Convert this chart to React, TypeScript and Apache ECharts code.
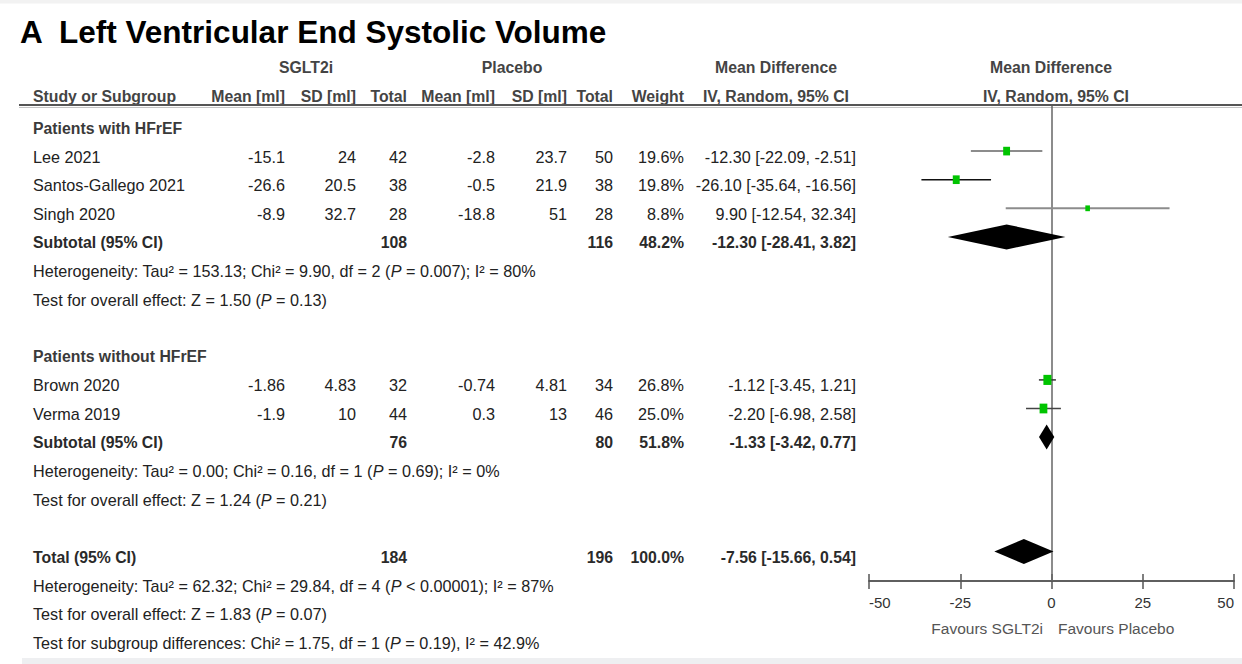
import React, { useEffect, useRef } from "react";
import * as echarts from "echarts";

// ---- study-level data ----
const studies = ["Lee 2021", "Santos-Gallego 2021", "Singh 2020", "Brown 2020", "Verma 2019"];
const studyGroup = [0, 0, 0, 1, 1];
const sgltMean = [-15.1, -26.6, -8.9, -1.86, -1.9];
const sgltSD = [24, 20.5, 32.7, 4.83, 10];
const sgltN = [42, 38, 28, 32, 44];
const placeboMean = [-2.8, -0.5, -18.8, -0.74, 0.3];
const placeboSD = [23.7, 21.9, 51, 4.81, 13];
const placeboN = [50, 38, 28, 34, 46];
const weights = [19.6, 19.8, 8.8, 26.8, 25.0];
const meanDiff = [-12.3, -26.1, 9.9, -1.12, -2.2];
const ciLow = [-22.09, -35.64, -12.54, -3.45, -6.98];
const ciHigh = [-2.51, -16.56, 32.34, 1.21, 2.58];

// ---- subgroup pooled data ----
const subgroups = ["Patients with HFrEF", "Patients without HFrEF"];
const subSgltN = [108, 76];
const subPlaceboN = [116, 80];
const subWeight = [48.2, 51.8];
const subMeanDiff = [-12.3, -1.33];
const subLow = [-28.41, -3.42];
const subHigh = [3.82, 0.77];

// ---- overall pooled data ----
const totalSgltN = 184;
const totalPlaceboN = 196;
const totalWeight = 100.0;
const totalMeanDiff = -7.56;
const totalLow = -15.66;
const totalHigh = 0.54;

// ---- heterogeneity / effect statistics (subgroup 1, subgroup 2, overall) ----
const hetTau2 = ["153.13", "0.00", "62.32"];
const hetChi2 = ["9.90", "0.16", "29.84"];
const hetDf = [2, 1, 4];
const hetP = ["= 0.007", "= 0.69", "< 0.00001"];
const hetI2 = [80, 0, 87];
const effectZ = ["1.50", "1.24", "1.83"];
const effectP = ["0.13", "0.21", "0.07"];
const subDiffChi2 = "1.75";
const subDiffDf = 1;
const subDiffP = "0.19";
const subDiffI2 = "42.9";

// ---- axis ----
const axisTicks = [-50, -25, 0, 25, 50];

// ---- layout & style ----
const W = 1242;
const H = 664;
const FONT = '"Liberation Sans", Arial, Helvetica, sans-serif';
const FS = 16.2;
const HFS = 15.8;
const TEXT_ROW0 = 128;
const PITCH = 28.6;
const MARK_ROW0 = 122.5;
const GRID_TOP = 106;
const AXIS_Y = 581;
const X_LEFT = 869;
const X_RIGHT = 1234;
const COL = { name: 33, m1: 285, sd1: 356, n1: 407, m2: 495, sd2: 567, n2: 613, w: 684, ci: 856 };
const ciLineColor = ["#8c8c8c", "#111", "#8c8c8c", "#333", "#444"];
const ciLineWidth = [2, 1.5, 2, 1.5, 1.5];
const GREEN = "#00c400";

const rowY = (i: number) => TEXT_ROW0 + PITCH * i;
const fmtCI = (m: number, lo: number, hi: number) =>
  `${m.toFixed(2)} [${lo.toFixed(2)}, ${hi.toFixed(2)}]`;

function txt(
  text: string,
  x: number,
  y: number,
  align: string,
  opts: { bold?: boolean; size?: number; color?: string } = {}
) {
  const size = opts.size ?? FS;
  return {
    type: "text",
    x,
    y,
    silent: true,
    style: {
      text,
      fill: opts.color ?? "#222",
      fontSize: size,
      fontFamily: FONT,
      fontWeight: opts.bold ? "bold" : "normal",
      align,
      textAlign: align,
      verticalAlign: "middle",
      textVerticalAlign: "middle",
      rich: {
        it: { fontStyle: "italic", fontSize: size, fontFamily: FONT, fill: opts.color ?? "#222" },
      },
    },
  };
}

function buildRows() {
  // rows: table text + forest marks
  const graphics: any[] = [];
  const marks: any[] = [];
  let r = 0;
  const hetLine = (k: number) =>
    `Heterogeneity: Tau² = ${hetTau2[k]}; Chi² = ${hetChi2[k]}, df = ${hetDf[k]} ({it|P} ${hetP[k]}); I² = ${hetI2[k]}%`;
  const effLine = (k: number) => `Test for overall effect: Z = ${effectZ[k]} ({it|P} = ${effectP[k]})`;

  subgroups.forEach((g, gi) => {
    graphics.push(txt(g, COL.name, rowY(r), "left", { bold: true, size: HFS, color: "#3a3a3a" }));
    r++;
    studies.forEach((s, si) => {
      if (studyGroup[si] !== gi) return;
      const y = rowY(r);
      graphics.push(txt(s, COL.name, y, "left"));
      graphics.push(txt(String(sgltMean[si]), COL.m1, y, "right"));
      graphics.push(txt(String(sgltSD[si]), COL.sd1, y, "right"));
      graphics.push(txt(String(sgltN[si]), COL.n1, y, "right"));
      graphics.push(txt(String(placeboMean[si]), COL.m2, y, "right"));
      graphics.push(txt(String(placeboSD[si]), COL.sd2, y, "right"));
      graphics.push(txt(String(placeboN[si]), COL.n2, y, "right"));
      graphics.push(txt(weights[si].toFixed(1) + "%", COL.w, y, "right"));
      graphics.push(txt(fmtCI(meanDiff[si], ciLow[si], ciHigh[si]), COL.ci, y, "right"));
      marks.push([meanDiff[si], r, ciLow[si], ciHigh[si], weights[si], 0, si]);
      r++;
    });
    const y = rowY(r);
    const b = { bold: true, size: HFS, color: "#2a2a2a" };
    graphics.push(txt("Subtotal (95% CI)", COL.name, y, "left", b));
    graphics.push(txt(String(subSgltN[gi]), COL.n1, y, "right", b));
    graphics.push(txt(String(subPlaceboN[gi]), COL.n2, y, "right", b));
    graphics.push(txt(subWeight[gi].toFixed(1) + "%", COL.w, y, "right", b));
    graphics.push(txt(fmtCI(subMeanDiff[gi], subLow[gi], subHigh[gi]), COL.ci, y, "right", b));
    marks.push([subMeanDiff[gi], r, subLow[gi], subHigh[gi], subWeight[gi], 1, -1]);
    r++;
    graphics.push(txt(hetLine(gi), COL.name, rowY(r), "left"));
    r++;
    graphics.push(txt(effLine(gi), COL.name, rowY(r), "left"));
    r += 2;
  });

  const y = rowY(r);
  const b = { bold: true, size: HFS, color: "#2a2a2a" };
  graphics.push(txt("Total (95% CI)", COL.name, y, "left", b));
  graphics.push(txt(String(totalSgltN), COL.n1, y, "right", b));
  graphics.push(txt(String(totalPlaceboN), COL.n2, y, "right", b));
  graphics.push(txt(totalWeight.toFixed(1) + "%", COL.w, y, "right", b));
  graphics.push(txt(fmtCI(totalMeanDiff, totalLow, totalHigh), COL.ci, y, "right", b));
  marks.push([totalMeanDiff, r, totalLow, totalHigh, totalWeight, 1, -1]);
  r++;
  graphics.push(txt(hetLine(2), COL.name, rowY(r), "left"));
  r++;
  graphics.push(txt(effLine(2), COL.name, rowY(r), "left"));
  r++;
  graphics.push(
    txt(
      `Test for subgroup differences: Chi² = ${subDiffChi2}, df = ${subDiffDf} ({it|P} = ${subDiffP}), I² = ${subDiffI2}%`,
      COL.name,
      rowY(r),
      "left"
    )
  );
  return { graphics, marks };
}

export default function App() {
  const ref = useRef<HTMLDivElement>(null);

  useEffect(() => {
    if (!ref.current) return;
    const chart = echarts.init(ref.current, undefined, { renderer: "svg" });
    const { graphics, marks } = buildRows();
    const hdr = { bold: true, size: HFS, color: "#444" };

    const headerGraphics = [
      { type: "rect", shape: { x: 0, y: 0, width: W, height: 3.5 }, style: { fill: "#f2f2f2" }, silent: true },
      { type: "rect", shape: { x: 22, y: 658, width: W - 22, height: 6 }, style: { fill: "#eeeff1" }, silent: true },
      txt("A  Left Ventricular End Systolic Volume", 20, 32, "left", { bold: true, size: 31.5, color: "#000" }),
      txt("SGLT2i", 306, 67, "center", hdr),
      txt("Placebo", 512, 67, "center", hdr),
      txt("Mean Difference", 776, 67, "center", hdr),
      txt("Mean Difference", 1051, 67, "center", hdr),
      txt("Study or Subgroup", COL.name, 96, "left", hdr),
      txt("Mean [ml]", COL.m1, 96, "right", hdr),
      txt("SD [ml]", COL.sd1, 96, "right", hdr),
      txt("Total", COL.n1, 96, "right", hdr),
      txt("Mean [ml]", COL.m2, 96, "right", hdr),
      txt("SD [ml]", COL.sd2, 96, "right", hdr),
      txt("Total", COL.n2, 96, "right", hdr),
      txt("Weight", COL.w, 96, "right", hdr),
      txt("IV, Random, 95% CI", 776, 96, "center", hdr),
      txt("IV, Random, 95% CI", 1056, 96, "center", hdr),
      { type: "line", shape: { x1: 19, y1: 105, x2: W, y2: 105 }, style: { stroke: "#555", lineWidth: 2 }, silent: true },
      { type: "line", shape: { x1: 19, y1: 107.5, x2: W, y2: 107.5 }, style: { stroke: "#c4c4c4", lineWidth: 1 }, silent: true },
      txt("Favours SGLT2i", 1043, 628, "right", { size: 15.5, color: "#555" }),
      txt("Favours Placebo", 1058, 628, "left", { size: 15.5, color: "#555" }),
    ];

    const yMin = (GRID_TOP - MARK_ROW0) / PITCH;
    const yMax = (AXIS_Y - MARK_ROW0) / PITCH;

    const axisCommon = {
      type: "value",
      min: axisTicks[0],
      max: axisTicks[axisTicks.length - 1],
      interval: axisTicks[1] - axisTicks[0],
      position: "bottom",
      splitLine: { show: false },
      axisLine: { show: true, onZero: false, lineStyle: { color: "#555", width: 1.5 } },
    };

    chart.setOption({
      animation: false,
      backgroundColor: "#ffffff",
      grid: { left: X_LEFT, right: W - X_RIGHT, top: GRID_TOP, bottom: H - AXIS_Y },
      xAxis: [
        {
          ...axisCommon,
          axisTick: { show: true, inside: false, length: 8, lineStyle: { color: "#555", width: 1.5 } },
          axisLabel: {
            show: true,
            margin: 14,
            fontSize: 15,
            fontFamily: FONT,
            color: "#333",
            alignMinLabel: "left",
            alignMaxLabel: "right",
          },
        },
        {
          ...axisCommon,
          axisTick: { show: true, inside: true, length: 7, lineStyle: { color: "#555", width: 1.5 } },
          axisLabel: { show: false },
        },
      ],
      yAxis: { type: "value", inverse: true, min: yMin, max: yMax, show: false },
      graphic: { elements: [...headerGraphics, ...graphics] },
      series: [
        {
          type: "custom",
          xAxisIndex: 0,
          data: marks,
          encode: { x: [0, 2, 3], y: 1 },
          clip: false,
          renderItem: (params: any, api: any) => {
            const md = api.value(0);
            const row = api.value(1);
            const lo = api.value(2);
            const hi = api.value(3);
            const w = api.value(4);
            const kind = api.value(5);
            const si = api.value(6);
            const c = api.coord([md, row]);
            const pl = api.coord([lo, row]);
            const ph = api.coord([hi, row]);
            if (kind === 1) {
              const half = 12.5;
              return {
                type: "polygon",
                shape: {
                  points: [
                    [pl[0], c[1]],
                    [c[0], c[1] - half],
                    [ph[0], c[1]],
                    [c[0], c[1] + half],
                  ],
                },
                style: { fill: "#000" },
              };
            }
            const bw = 1.55 * Math.sqrt(w);
            const bh = 1.95 * Math.sqrt(w);
            return {
              type: "group",
              children: [
                {
                  type: "line",
                  shape: { x1: pl[0], y1: c[1], x2: ph[0], y2: c[1] },
                  style: { stroke: ciLineColor[si], lineWidth: ciLineWidth[si] },
                },
                {
                  type: "rect",
                  shape: { x: c[0] - bw / 2, y: c[1] - bh / 2, width: bw, height: bh },
                  style: { fill: GREEN },
                },
              ],
            };
          },
          markLine: {
            silent: true,
            symbol: "none",
            label: { show: false },
            lineStyle: { color: "#666", width: 1.5, type: "solid" },
            data: [{ xAxis: 0 }],
            z: 1,
          },
          z: 3,
        },
      ],
    });

    return () => chart.dispose();
  }, []);

  return (
    <div
      ref={ref}
      style={{ position: "absolute", left: 0, top: 0, width: W, height: H }}
    />
  );
}
